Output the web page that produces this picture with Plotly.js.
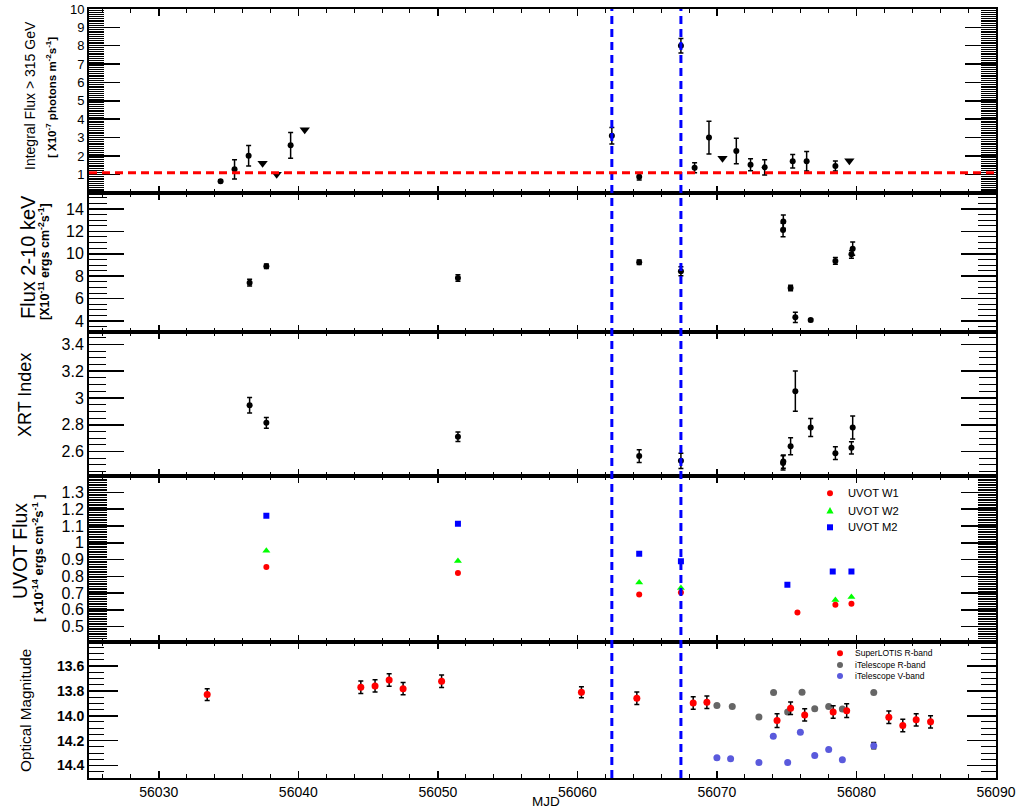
<!DOCTYPE html>
<html><head><meta charset="utf-8">
<script src="https://cdn.plot.ly/plotly-3.0.1.min.js"></script>
<style>html,body{margin:0;padding:0;background:#fff}</style>
</head><body><div id="chart" style="width:1020px;height:808px"></div>
<script>
// ---------------- DATA ----------------
// Panel 1: VHE integral flux > 315 GeV (x1e-7 photons m^-2 s^-1)
const vheMjd  = [56034.43, 56035.43, 56036.44, 56039.45, 56062.47, 56064.43, 56067.42, 56068.40, 56069.43, 56071.39, 56072.41, 56073.42, 56075.43, 56076.43, 56078.49];
const vheFlux = [0.63, 1.27, 2.01, 2.58, 3.10, 0.87, 8.00, 1.36, 3.00, 2.27, 1.52, 1.38, 1.71, 1.71, 1.45];
const vheErr  = [0.08, 0.53, 0.56, 0.70, 0.45, 0.18, 0.40, 0.27, 0.89, 0.70, 0.33, 0.41, 0.37, 0.53, 0.27];
const ulMjd   = [56037.44, 56038.45, 56040.46, 56070.40, 56079.49];
const ulFlux  = [1.60, 1.01, 3.43, 1.87, 1.74];
const vheThreshold = 1.09;
const flareMjd = [56062.47, 56067.42];

// Panel 2 & 3: Swift-XRT
const xrtMjd      = [56036.51, 56037.71, 56051.44, 56064.43, 56067.42, 56074.74, 56074.76, 56075.28, 56075.62, 56076.72, 56078.49, 56079.64, 56079.73];
const xrtFlux     = [7.42, 8.88, 7.84, 9.24, 8.44, 12.13, 12.87, 6.95, 4.33, 4.09, 9.36, 9.95, 10.46];
const xrtFluxErr  = [0.30, 0.20, 0.30, 0.20, 0.40, 0.60, 0.59, 0.25, 0.45, 0.12, 0.30, 0.35, 0.60];
const xrtIndex    = [2.946, 2.814, 2.710, 2.566, 2.531, 2.515, 2.525, 2.640, 3.050, 2.779, 2.588, 2.628, 2.779];
const xrtIndexErr = [0.058, 0.040, 0.035, 0.048, 0.057, 0.053, 0.050, 0.063, 0.150, 0.067, 0.047, 0.046, 0.086];

// Panel 4: Swift-UVOT
const w1Mjd  = [56037.71, 56051.44, 56064.43, 56067.42, 56075.77, 56078.49, 56079.64];
const w1Flux = [0.856, 0.820, 0.691, 0.703, 0.584, 0.631, 0.637];
const w2Mjd  = [56037.71, 56051.44, 56064.43, 56067.42, 56078.49, 56079.64];
const w2Flux = [0.952, 0.892, 0.763, 0.731, 0.659, 0.677];
const m2Mjd  = [56037.71, 56051.44, 56064.43, 56067.42, 56075.05, 56078.30, 56079.64];
const m2Flux = [1.161, 1.113, 0.934, 0.890, 0.749, 0.828, 0.828];

// Panel 5: optical
const lotisMjd = [56033.47, 56044.48, 56045.50, 56046.51, 56047.51, 56050.27, 56060.29, 56064.26, 56068.30, 56069.28, 56074.31, 56075.28, 56076.29, 56078.33, 56079.30, 56082.32, 56083.32, 56084.28, 56085.31];
const lotisMag = [13.830, 13.771, 13.760, 13.712, 13.782, 13.723, 13.811, 13.859, 13.897, 13.891, 14.039, 13.940, 13.993, 13.969, 13.959, 14.012, 14.079, 14.033, 14.049];
const lotisErr = [0.048, 0.050, 0.050, 0.050, 0.050, 0.050, 0.045, 0.050, 0.050, 0.050, 0.055, 0.050, 0.050, 0.050, 0.055, 0.050, 0.050, 0.050, 0.050];
const itelRMjd = [56070.00, 56071.10, 56073.01, 56074.06, 56075.07, 56076.10, 56077.01, 56078.01, 56078.99, 56081.24];
const itelRMag = [13.918, 13.926, 14.009, 13.814, 13.969, 13.811, 13.943, 13.926, 13.945, 13.814];
const itelVMjd = [56070.00, 56070.98, 56073.01, 56074.04, 56075.07, 56075.98, 56077.01, 56078.01, 56078.99, 56081.24];
const itelVMag = [14.338, 14.346, 14.376, 14.164, 14.376, 14.132, 14.320, 14.272, 14.354, 14.240];
const itelVErr = [0, 0, 0, 0, 0, 0, 0, 0, 0, 0.025];

// Axis ticks
const xTick0 = 56030;
const vheTicks = [1,2,3,4,5,6,7,8,9,10];
const fluxTicks = [4,6,8,10,12,14];
const idxTicks = [2.6, 2.8, 3.0, 3.2, 3.4];
const idxText = ['2.6','2.8','3','3.2','3.4'];
const uvTicks = [0.5,0.6,0.7,0.8,0.9,1.0,1.1,1.2,1.3];
const uvText = ['0.5','0.6','0.7','0.8','0.9','1','1.1','1.2','1.3'];
const magTicks = [13.6,13.8,14.0,14.2,14.4];
const magText = ['13.6','13.8','14.0','14.2','14.4'];

// ---------------- LAYOUT HELPERS ----------------
const W=1020, H=808, ML=89, MR=24, MT=9, MB=30;
const PW=W-ML-MR, PH=H-MT-MB;
const px = x => (x-ML)/PW;
const py = y => (H-MB-y)/PH;
const edges = [9, 192.7, 331.7, 475.7, 641.7, 778];
const dom = i => [py(edges[i+1]), Math.min(1, py(edges[i]))];
const FONT = 'Liberation Sans, Arial, sans-serif';

function xax(anchor, labels){
  return {anchor, range:[56025,56090], showgrid:false, zeroline:false,
    ticks:'inside', ticklen:7, tickwidth:1.5, tickcolor:'black', tickmode:'linear', tick0:xTick0, dtick:10,
    mirror:'ticks', showline:true, linecolor:'black', linewidth:2,
    showticklabels:labels, tickformat:'d',
    tickfont:{family:FONT, size:14, color:'black'},
    minor:{tickmode:'linear', tick0:xTick0, dtick:2, ticklen:4, tickwidth:1, tickcolor:'black', ticks:'inside'}};
}
function yax(anchor, i, range, vals, text, major, minorD, minorLen, fsize, bold){
  return {anchor, domain:dom(i), range, showgrid:false, zeroline:false,
    tickmode:'array', tickvals:vals, ticktext:text,
    ticks:'inside', ticklen:major, tickwidth:1.5, tickcolor:'black',
    mirror:'ticks', showline:true, linecolor:'black', linewidth:2,
    tickfont:{family:FONT, size:fsize, color:'black', weight: bold ? 'bold' : 'normal'},
    minor:{tickmode:'linear', tick0:0, dtick:minorD, ticklen:minorLen, tickwidth:1, tickcolor:'black', ticks:'inside'}};
}

const errStyle = arr => ({type:'data', array:arr, visible:true, color:'black', thickness:1.5, width:2.5});

const traces = [
  {x:vheMjd, y:vheFlux, xaxis:'x', yaxis:'y', mode:'markers', marker:{symbol:'circle', size:6, color:'black'}, error_y:errStyle(vheErr)},
  {x:ulMjd, y:ulFlux, xaxis:'x', yaxis:'y', mode:'markers', marker:{symbol:'triangle-down', size:9, color:'black'}},
  {x:xrtMjd, y:xrtFlux, xaxis:'x2', yaxis:'y2', mode:'markers', marker:{symbol:'circle', size:6, color:'black'}, error_y:errStyle(xrtFluxErr)},
  {x:xrtMjd, y:xrtIndex, xaxis:'x3', yaxis:'y3', mode:'markers', marker:{symbol:'circle', size:6, color:'black'}, error_y:errStyle(xrtIndexErr)},
  {x:m2Mjd, y:m2Flux, xaxis:'x4', yaxis:'y4', mode:'markers', marker:{symbol:'square', size:6, color:'#0000ff'}},
  {x:w2Mjd, y:w2Flux, xaxis:'x4', yaxis:'y4', mode:'markers', marker:{symbol:'triangle-up', size:7, color:'#00ff00'}},
  {x:w1Mjd, y:w1Flux, xaxis:'x4', yaxis:'y4', mode:'markers', marker:{symbol:'circle', size:6, color:'#ff0000'}},
  {x:itelRMjd, y:itelRMag, xaxis:'x5', yaxis:'y5', mode:'markers', marker:{symbol:'circle', size:7, color:'#666666'}},
  {x:itelVMjd, y:itelVMag, xaxis:'x5', yaxis:'y5', mode:'markers', marker:{symbol:'circle', size:7, color:'#5a5adc'}, error_y:errStyle(itelVErr)},
  {x:lotisMjd, y:lotisMag, xaxis:'x5', yaxis:'y5', mode:'markers', marker:{symbol:'circle', size:7, color:'#ff0000'}, error_y:errStyle(lotisErr)}
];

const shapes = [];
flareMjd.forEach(m => shapes.push({type:'line', xref:'x5', yref:'paper', x0:m, x1:m, y0:0, y1:1,
  line:{color:'#0000ff', width:3, dash:'8px,5px'}}));
shapes.push({type:'line', xref:'paper', yref:'y', x0:0, x1:1, y0:vheThreshold, y1:vheThreshold,
  line:{color:'#ff0000', width:3, dash:'8px,5px'}});

// legend symbols (drawn as pixel-sized shapes)
function circ(xp, yp, r, col){ return {type:'circle', xref:'paper', yref:'paper', xsizemode:'pixel', ysizemode:'pixel',
  xanchor:px(xp), yanchor:py(yp), x0:-r, x1:r, y0:-r, y1:r, fillcolor:col, line:{width:0}}; }
function sq(xp, yp, r, col){ return {type:'rect', xref:'paper', yref:'paper', xsizemode:'pixel', ysizemode:'pixel',
  xanchor:px(xp), yanchor:py(yp), x0:-r, x1:r, y0:-r, y1:r, fillcolor:col, line:{width:0}}; }
function tri(xp, yp, r, col){ return {type:'path', xref:'paper', yref:'paper', xsizemode:'pixel', ysizemode:'pixel',
  xanchor:px(xp), yanchor:py(yp), path:`M${-r},${-r*0.8} L${r},${-r*0.8} L0,${r} Z`, fillcolor:col, line:{width:0}}; }

shapes.push(circ(830, 493.3, 3, '#ff0000'), tri(830, 510.7, 3.6, '#00ff00'), sq(830, 527.3, 3, '#0000ff'));
shapes.push(circ(840, 653.3, 3, '#ff0000'), circ(840, 665, 3, '#666666'), circ(840, 676, 3, '#5a5adc'));

function ann(text, x, y, size, opts){
  return Object.assign({text, xref:'paper', yref:'paper', x:px(x), y:py(y), showarrow:false,
    xanchor:'center', yanchor:'middle', font:{family:FONT, size, color:'black'}}, opts||{});
}
const annotations = [
  ann('Integral Flux > 315 GeV', 30, 95, 14, {textangle:-90}),
  ann('<b>[ X10<sup>-7</sup> photons m<sup>-2</sup>s<sup>-1</sup>]</b>', 51, 98, 11.5, {textangle:-90}),
  ann('Flux 2-10 keV', 28, 257, 20, {textangle:-90}),
  ann('<b>[X10<sup>-11</sup> ergs cm<sup>-2</sup>s<sup>-1</sup>]</b>', 44, 262, 12.5, {textangle:-90}),
  ann('XRT Index', 25, 395, 18, {textangle:-90}),
  ann('UVOT Flux', 20, 551, 19.5, {textangle:-90}),
  ann('<b>[ x10<sup>-14</sup> ergs cm<sup>-2</sup>s<sup>-1</sup> ]</b>', 38, 558, 13, {textangle:-90}),
  ann('Optical Magnitude', 25, 711, 15.3, {textangle:-90}),
  ann('MJD', 546, 801, 13.5),
  ann('UVOT W1', 846, 493.3, 11.2, {xanchor:'left'}),
  ann('UVOT W2', 846, 510.7, 11.2, {xanchor:'left'}),
  ann('UVOT M2', 846, 527.3, 11.2, {xanchor:'left'}),
  ann('SuperLOTIS R-band', 853, 653.3, 8.5, {xanchor:'left'}),
  ann('iTelescope R-band', 853, 665, 8.5, {xanchor:'left'}),
  ann('iTelescope V-band', 853, 676, 8.5, {xanchor:'left'})
];

const layout = {
  width:W, height:H, margin:{l:ML, r:MR, t:MT, b:MB, pad:0},
  paper_bgcolor:'white', plot_bgcolor:'white', showlegend:false,
  font:{family:FONT, color:'black'},
  xaxis:xax('y', false), xaxis2:xax('y2', false), xaxis3:xax('y3', false), xaxis4:xax('y4', false), xaxis5:xax('y5', true),
  yaxis:yax('x', 0, [0,10], vheTicks, vheTicks.map(String), 31, 0.1, 15, 13, false),
  yaxis2:yax('x2', 1, [3.05,15.45], fluxTicks, fluxTicks.map(String), 35, 0.5, 18, 16, false),
  yaxis3:yax('x3', 2, [2.42,3.494], idxTicks, idxText, 35, 0.05, 17, 16, false),
  yaxis4:yax('x4', 3, [0.41,1.40], uvTicks, uvText, 35, 0.01, 18, 16, false),
  yaxis5:yax('x5', 4, [14.5,13.405], magTicks, magText, 29, 0.05, 15, 14, true),
  shapes, annotations
};

Plotly.newPlot('chart', traces, layout, {displayModeBar:false, staticPlot:true});
</script></body></html>
